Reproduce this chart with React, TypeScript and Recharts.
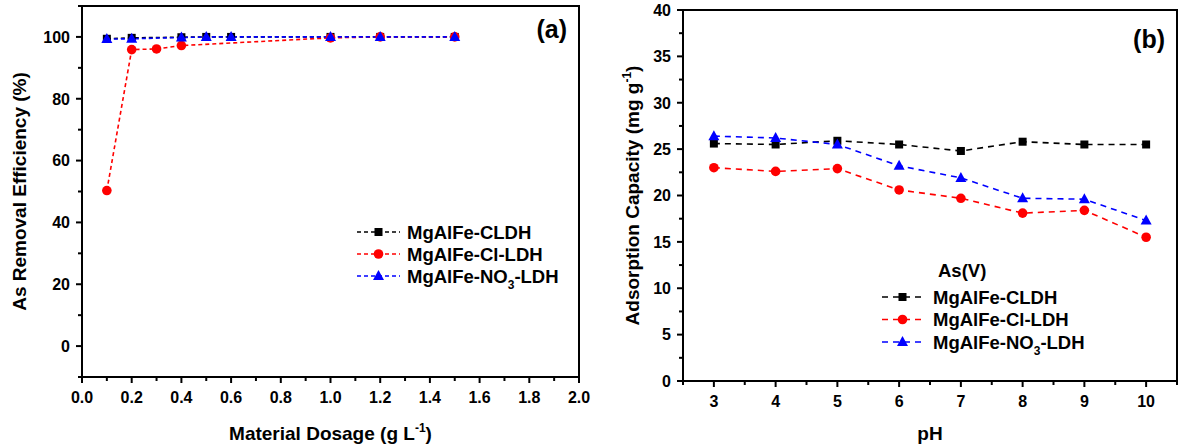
import React from 'react';
import { LineChart, Line, XAxis, YAxis, ReferenceArea, Legend } from 'recharts';

// panel (a): removal efficiency vs dosage
const dosage = [0.1, 0.2, 0.3, 0.4, 0.5, 0.6, 1.0, 1.2, 1.5];
const cldhDose = [99.4, 99.7, null, 99.9, 100, 100, 100, 100, 100];
const clDose = [50.3, 95.9, 96.1, 97.2, null, null, 99.7, 100, 100];
const no3Dose = [99.3, 99.4, null, 99.8, 100, 100, 100, 100, 100];

// panel (b): adsorption capacity vs pH
const pH = [3, 4, 5, 6, 7, 8, 9, 10];
const cldhPH = [25.6, 25.5, 25.9, 25.5, 24.8, 25.8, 25.5, 25.5];
const clPH = [23.0, 22.6, 22.9, 20.6, 19.7, 18.1, 18.4, 15.5];
const no3PH = [26.4, 26.2, 25.5, 23.2, 21.9, 19.7, 19.6, 17.3];

const doseTicks = [0, 0.1, 0.2, 0.3, 0.4, 0.5, 0.6, 0.7, 0.8, 0.9, 1.0, 1.1, 1.2, 1.3, 1.4, 1.5, 1.6, 1.7, 1.8, 1.9, 2.0];
const effTicks = [-10, 0, 10, 20, 30, 40, 50, 60, 70, 80, 90, 100, 110];
const pHTicks = [2.5, 3, 3.5, 4, 4.5, 5, 5.5, 6, 6.5, 7, 7.5, 8, 8.5, 9, 9.5, 10, 10.5];
const capTicks = [0, 2.5, 5, 7.5, 10, 12.5, 15, 17.5, 20, 22.5, 25, 27.5, 30, 32.5, 35, 37.5, 40];

const series = [
  { key: 'cldh', name: 'MgAlFe-CLDH', color: '#000000', shape: 'square' },
  { key: 'cl', name: 'MgAlFe-Cl-LDH', color: '#ff0000', shape: 'circle' },
  { key: 'no3', name: 'MgAlFe-NO3-LDH', color: '#0000ff', shape: 'triangle' },
];

const doseData = dosage.map((x, i) => ({ x, cldh: cldhDose[i], cl: clDose[i], no3: no3Dose[i] }));
const pHData = pH.map((x, i) => ({ x, cldh: cldhPH[i], cl: clPH[i], no3: no3PH[i] }));

const FONT = '"Liberation Sans", Arial, sans-serif';

function Marker({ cx, cy, shape, color }: any) {
  if (cx == null || cy == null) return <g />;
  if (shape === 'square') return <rect x={cx - 4} y={cy - 4} width={8} height={8} fill={color} />;
  if (shape === 'circle') return <circle cx={cx} cy={cy} r={4.8} fill={color} />;
  return <polygon points={`${cx},${cy - 6} ${cx - 5.5},${cy + 4} ${cx + 5.5},${cy + 4}`} fill={color} />;
}

function SeriesName({ name }: { name: string }) {
  if (name.includes('NO3')) {
    return (
      <>
        <tspan>MgAlFe-NO</tspan>
        <tspan dy={6} fontSize={12}>3</tspan>
        <tspan dy={-6}>-LDH</tspan>
      </>
    );
  }
  return <tspan>{name}</tspan>;
}

function XTick({ x, y, payload, isMajor, fmt }: any) {
  const v = payload.value;
  const major = isMajor(v);
  return (
    <g>
      <line x1={x} x2={x} y1={y} y2={y + (major ? 6 : 4)} stroke="#000" strokeWidth={2} />
      {major && (
        <text x={x} y={y + 26} textAnchor="middle" fontSize={16} fontWeight="bold" fontFamily={FONT} fill="#000">
          {fmt(v)}
        </text>
      )}
    </g>
  );
}

function YTick({ x, y, payload, isMajor }: any) {
  const v = payload.value;
  const major = isMajor(v);
  return (
    <g>
      <line x1={x} x2={x - (major ? 6 : 4)} y1={y} y2={y} stroke="#000" strokeWidth={2} />
      {major && (
        <text x={x - 12} y={y} dy="0.36em" textAnchor="end" fontSize={16} fontWeight="bold" fontFamily={FONT} fill="#000">
          {v}
        </text>
      )}
    </g>
  );
}

function XTitle({ viewBox, children }: any) {
  const { x, width } = viewBox;
  return (
    <text x={x + width / 2} y={440} textAnchor="middle" fontSize={19} fontWeight="bold" fontFamily={FONT} fill="#000">
      {children}
    </text>
  );
}

function YTitle({ viewBox, children, cx }: any) {
  const { y, height } = viewBox;
  const cy = y + height / 2;
  return (
    <text x={cx} y={cy} dy="0.36em" textAnchor="middle" fontSize={19} fontWeight="bold" fontFamily={FONT} fill="#000"
      transform={`rotate(-90 ${cx} ${cy})`}>
      {children}
    </text>
  );
}

function PanelTag({ viewBox, tag, dy }: any) {
  const { x, y, width } = viewBox;
  return (
    <text x={x + width - 12} y={y + dy} textAnchor="end" fontSize={25} fontWeight="bold" fontFamily={FONT} fill="#000">
      {tag}
    </text>
  );
}

function makeLegend(opts: { dash: string; x1: number; x2: number; tx: number; y0: number; gap: number; title?: string; titleX?: number; w: number; h: number }) {
  return () => (
    <svg width={opts.w} height={opts.h} style={{ display: 'block', overflow: 'visible' }}>
      {opts.title && (
        <text x={opts.titleX} y={15} dy="0.36em" fontSize={18.5} fontWeight="bold" fontFamily={FONT} fill="#000">
          {opts.title}
        </text>
      )}
      {series.map((s, i) => {
        const y = opts.y0 + i * opts.gap;
        return (
          <g key={s.key}>
            <line x1={opts.x1} x2={opts.x2} y1={y} y2={y} stroke={s.color} strokeWidth={1.6} strokeDasharray={opts.dash} />
            <Marker cx={(opts.x1 + opts.x2) / 2} cy={y} shape={s.shape} color={s.color} />
            <text x={opts.tx} y={y} dy="0.36em" fontSize={18.5} fontWeight="bold" fontFamily={FONT} fill="#000">
              <SeriesName name={s.name} />
            </text>
          </g>
        );
      })}
    </svg>
  );
}

const LegendA = makeLegend({ dash: '4 3', x1: 7, x2: 50, tx: 57, y0: 14, gap: 22, w: 250, h: 95 });
const LegendB = makeLegend({ dash: '6 5', x1: 12, x2: 53, tx: 63, y0: 42, gap: 22.5, title: 'As(V)', titleX: 68, w: 270, h: 125 });

function renderLines(dash: string) {
  return series.map((s) => (
    <Line
      key={s.key}
      type="linear"
      dataKey={s.key}
      name={s.name}
      stroke={s.color}
      strokeWidth={1.6}
      strokeDasharray={dash}
      connectNulls
      isAnimationActive={false}
      dot={(p: any) => <Marker key={`${s.key}-${p.index}`} cx={p.cx} cy={p.cy} shape={s.shape} color={s.color} />}
      activeDot={false}
    />
  ));
}

export default function App() {
  return (
    <div style={{ position: 'absolute', left: 0, top: 0, width: 1178, height: 447, background: '#fff' }}>
      <div style={{ position: 'absolute', left: 0, top: 0 }}>
        <LineChart width={600} height={447} data={doseData} margin={{ top: 6, right: 21, bottom: 0, left: 0 }}>
          <XAxis
            dataKey="x"
            type="number"
            domain={[0, 2]}
            ticks={doseTicks}
            interval={0}
            allowDataOverflow
            height={70}
            tickSize={0}
            tickMargin={0}
            axisLine={false}
            tick={(p: any) => (
              <XTick {...p} isMajor={(v: number) => Math.round(v * 10) % 2 === 0} fmt={(v: number) => v.toFixed(1)} />
            )}
            label={(p: any) => (
              <XTitle {...p}>
                <tspan>Material Dosage (g L</tspan>
                <tspan dy={-8} fontSize={12}>-1</tspan>
                <tspan dy={8}>)</tspan>
              </XTitle>
            )}
          />
          <YAxis
            type="number"
            domain={[-10, 110]}
            ticks={effTicks}
            interval={0}
            allowDataOverflow
            width={82}
            tickSize={0}
            tickMargin={0}
            axisLine={false}
            tick={(p: any) => <YTick {...p} isMajor={(v: number) => v % 20 === 0 && v >= 0 && v <= 100} />}
            label={(p: any) => <YTitle {...p} cx={19}>As Removal Efficiency (%)</YTitle>}
          />
          <ReferenceArea
            x1={0}
            x2={2}
            y1={-10}
            y2={110}
            fill="none"
            stroke="#000"
            strokeWidth={2}
            fillOpacity={0}
            label={(p: any) => <PanelTag {...p} tag="(a)" dy={32} />}
          />
          {renderLines('4 3')}
          <Legend
            layout="vertical"
            verticalAlign="middle"
            align="center"
            content={LegendA}
            wrapperStyle={{ left: 350, top: 218, width: 250, height: 95 }}
          />
        </LineChart>
      </div>
      <div style={{ position: 'absolute', left: 600, top: 0 }}>
        <LineChart width={578} height={447} data={pHData} margin={{ top: 10, right: 1, bottom: 0, left: 0 }}>
          <XAxis
            dataKey="x"
            type="number"
            domain={[2.5, 10.5]}
            ticks={pHTicks}
            interval={0}
            allowDataOverflow
            height={66}
            tickSize={0}
            tickMargin={0}
            axisLine={false}
            tick={(p: any) => (
              <XTick {...p} isMajor={(v: number) => Number.isInteger(v) && v >= 3 && v <= 10} fmt={(v: number) => String(v)} />
            )}
            label={(p: any) => <XTitle {...p}>pH</XTitle>}
          />
          <YAxis
            type="number"
            domain={[0, 40]}
            ticks={capTicks}
            interval={0}
            allowDataOverflow
            width={83}
            tickSize={0}
            tickMargin={0}
            axisLine={false}
            tick={(p: any) => <YTick {...p} isMajor={(v: number) => v % 5 === 0} />}
            label={(p: any) => (
              <YTitle {...p} cx={32}>
                <tspan>Adsorption Capacity (mg g</tspan>
                <tspan dy={-8} fontSize={12}>-1</tspan>
                <tspan dy={8}>)</tspan>
              </YTitle>
            )}
          />
          <ReferenceArea
            x1={2.5}
            x2={10.5}
            y1={0}
            y2={40}
            fill="none"
            stroke="#000"
            strokeWidth={2}
            fillOpacity={0}
            label={(p: any) => <PanelTag {...p} tag="(b)" dy={38} />}
          />
          {renderLines('6 5')}
          <Legend
            layout="vertical"
            verticalAlign="middle"
            align="center"
            content={LegendB}
            wrapperStyle={{ left: 270, top: 255, width: 270, height: 125 }}
          />
        </LineChart>
      </div>
    </div>
  );
}
